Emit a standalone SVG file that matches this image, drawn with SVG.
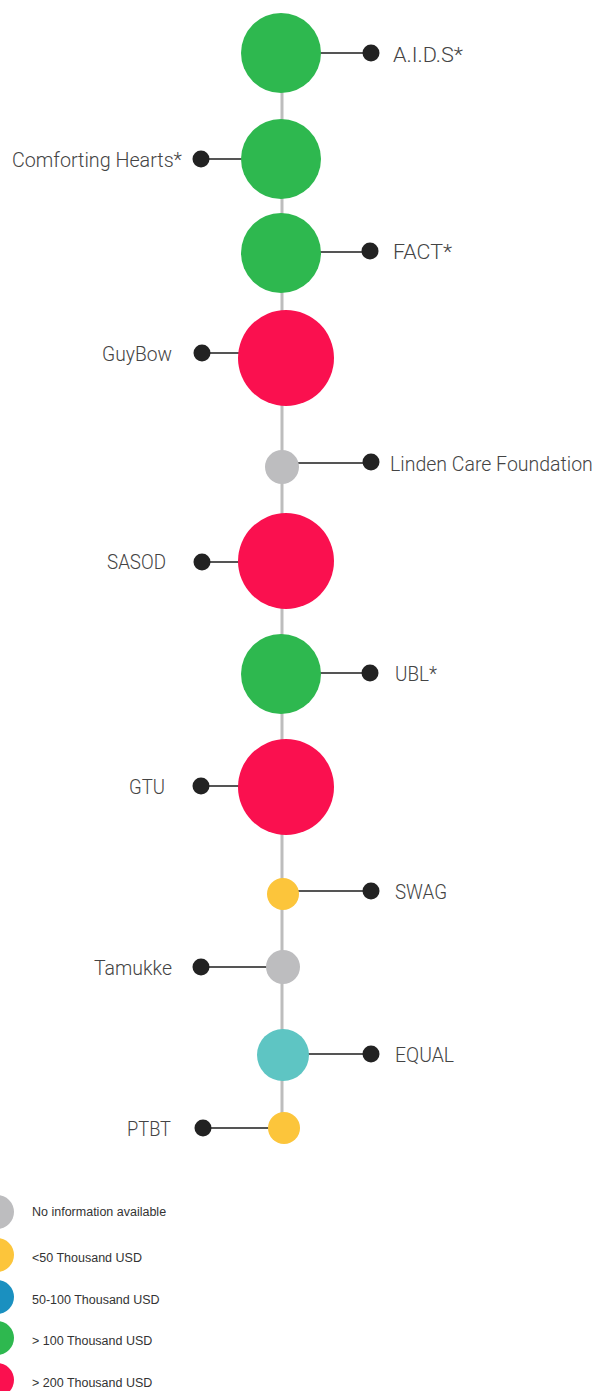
<svg xmlns="http://www.w3.org/2000/svg" width="598" height="1391" viewBox="0 0 598 1391">
<style>
.spine{stroke:#bdbdbd;stroke-width:3;fill:none}
.link{stroke:#555;stroke-width:2}
.dot{fill:#222}
.lbl{font-family:Roboto,"Liberation Sans",sans-serif;font-weight:300;font-size:21px;fill:#444}
.l{text-anchor:end}
.leg{font-family:"Liberation Sans",Arial,sans-serif;font-size:12.5px;fill:#333}
.green{fill:#2eb84f}.red{fill:#fa104f}.gray{fill:#bdbdbf}.yellow{fill:#fcc53b}.teal{fill:#5ec5c3}.blue{fill:#1a90c0}
</style>
<rect width="598" height="1391" fill="#fff"/>
<g id="connectors">
<line class="spine" x1="282" y1="54" x2="282" y2="1128"/>
<line class="link" x1="282" y1="53" x2="371" y2="53"/>
<line class="link" x1="201" y1="159" x2="282" y2="159"/>
<line class="link" x1="282" y1="252" x2="370" y2="252"/>
<line class="link" x1="202" y1="353" x2="285" y2="353"/>
<line class="link" x1="282" y1="463" x2="371" y2="463"/>
<line class="link" x1="202" y1="562" x2="285" y2="562"/>
<line class="link" x1="282" y1="673" x2="370" y2="673"/>
<line class="link" x1="201" y1="786" x2="285" y2="786"/>
<line class="link" x1="282" y1="891" x2="370" y2="891"/>
<line class="link" x1="201" y1="967" x2="282" y2="967"/>
<line class="link" x1="282" y1="1054" x2="371" y2="1054"/>
<line class="link" x1="203" y1="1128" x2="284" y2="1128"/>
</g>
<g id="aids"><circle class="green" cx="281" cy="53" r="40"/><circle class="dot" cx="371" cy="53" r="8.5"/><text class="lbl" x="393" y="62" textLength="70" lengthAdjust="spacingAndGlyphs">A.I.D.S*</text></g>
<g id="comforting"><circle class="green" cx="281" cy="159" r="40"/><circle class="dot" cx="201" cy="159" r="8.5"/><text class="lbl l" x="182" y="167" textLength="170" lengthAdjust="spacingAndGlyphs">Comforting Hearts*</text></g>
<g id="fact"><circle class="green" cx="281" cy="253" r="40"/><circle class="dot" cx="370" cy="251" r="8.5"/><text class="lbl" x="393" y="259" textLength="59" lengthAdjust="spacingAndGlyphs">FACT*</text></g>
<g id="guybow"><circle class="red" cx="286" cy="358" r="48"/><circle class="dot" cx="202" cy="353" r="8.5"/><text class="lbl l" x="172" y="361" textLength="70" lengthAdjust="spacingAndGlyphs">GuyBow</text></g>
<g id="linden"><circle class="gray" cx="282" cy="467" r="17"/><circle class="dot" cx="371" cy="462" r="8.5"/><text class="lbl" x="390" y="471" style="font-size:19.5px">Linden Care Foundation</text></g>
<g id="sasod"><circle class="red" cx="286" cy="561" r="48"/><circle class="dot" cx="202" cy="562" r="8.5"/><text class="lbl l" x="166" y="569" textLength="59" lengthAdjust="spacingAndGlyphs">SASOD</text></g>
<g id="ubl"><circle class="green" cx="281" cy="674" r="40"/><circle class="dot" cx="370" cy="673" r="8.5"/><text class="lbl" x="395" y="681" textLength="42" lengthAdjust="spacingAndGlyphs">UBL*</text></g>
<g id="gtu"><circle class="red" cx="286" cy="787" r="48"/><circle class="dot" cx="201" cy="786" r="8.5"/><text class="lbl l" x="165" y="794" textLength="36" lengthAdjust="spacingAndGlyphs">GTU</text></g>
<g id="swag"><circle class="yellow" cx="283" cy="894" r="16"/><circle class="dot" cx="371" cy="891" r="8.5"/><text class="lbl" x="395" y="899" textLength="52" lengthAdjust="spacingAndGlyphs">SWAG</text></g>
<g id="tamukke"><circle class="gray" cx="283" cy="967" r="17"/><circle class="dot" cx="201" cy="967" r="8.5"/><text class="lbl l" x="172" y="975" textLength="78" lengthAdjust="spacingAndGlyphs">Tamukke</text></g>
<g id="equal"><circle class="teal" cx="283" cy="1055" r="26"/><circle class="dot" cx="371" cy="1054" r="8.5"/><text class="lbl" x="395" y="1062" textLength="59" lengthAdjust="spacingAndGlyphs">EQUAL</text></g>
<g id="ptbt"><circle class="yellow" cx="284" cy="1128" r="16"/><circle class="dot" cx="203" cy="1128" r="8.5"/><text class="lbl l" x="171" y="1136" textLength="44" lengthAdjust="spacingAndGlyphs">PTBT</text></g>
<g id="legend">
<circle class="gray" cx="-3" cy="1212" r="17"/><text class="leg" x="32" y="1216">No information available</text>
<circle class="yellow" cx="-3" cy="1255" r="17"/><text class="leg" x="32" y="1262">&lt;50 Thousand USD</text>
<circle class="blue" cx="-3" cy="1297" r="17"/><text class="leg" x="32" y="1304">50-100 Thousand USD</text>
<circle class="green" cx="-3" cy="1338" r="17"/><text class="leg" x="32" y="1345">&gt; 100 Thousand USD</text>
<circle class="red" cx="-3" cy="1380" r="17"/><text class="leg" x="32" y="1387">&gt; 200 Thousand USD</text>
</g>
</svg>
